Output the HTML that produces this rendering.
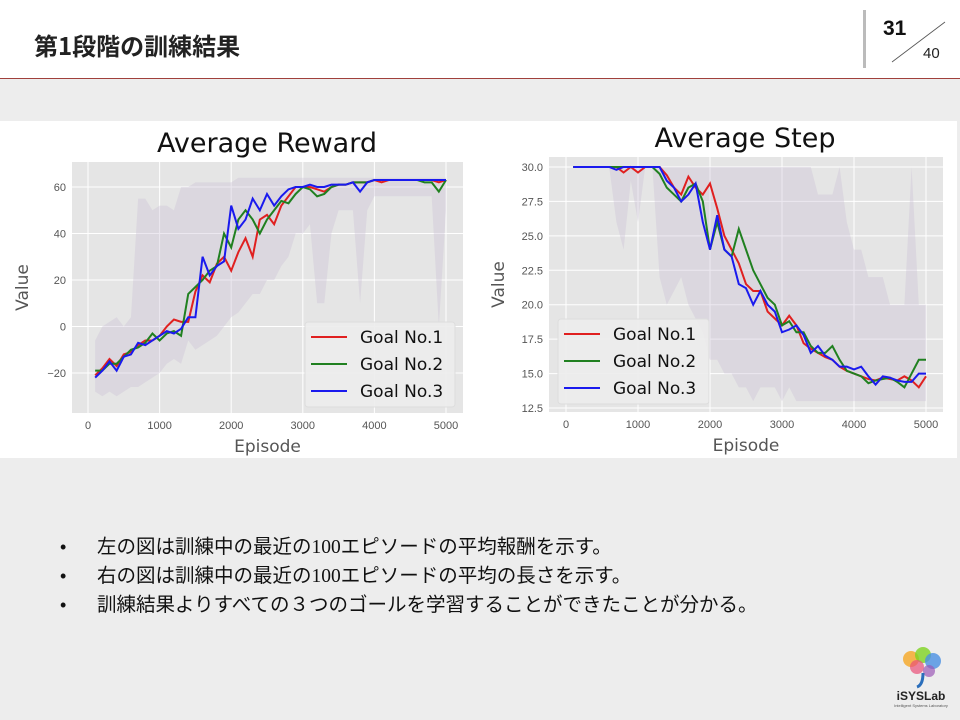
<!DOCTYPE html>
<html><head><meta charset="utf-8">
<style>
body{margin:0;width:960px;height:720px;overflow:hidden;background:#ededed;font-family:"Liberation Sans","Noto Sans CJK JP",sans-serif;position:relative}
#hdr{position:absolute;left:0;top:0;width:960px;height:78px;background:#fff;border-bottom:1px solid #a0403c}
#ttl{position:absolute;left:34px;top:28px;font-size:24px;font-weight:bold;color:#222;font-family:"Noto Sans CJK JP",sans-serif;line-height:34px}
#div{position:absolute;left:863px;top:10px;width:3px;height:58px;background:#bbb}
#pg{position:absolute;left:883px;top:17px;font-size:21px;font-weight:bold;color:#111}
#tot{position:absolute;left:923px;top:45px;font-size:15px;color:#222}
#strip{position:absolute;left:0;top:121px;width:957px;height:337px;background:#fff}
ul{position:absolute;left:60px;top:533px;margin:0;padding:0;list-style:none;font-family:"Liberation Serif","Noto Sans CJK JP",sans-serif;font-size:19.5px;color:#111}
li{height:29px;line-height:29px;position:relative;padding-left:37px;white-space:nowrap}
li:before{content:"•";position:absolute;left:0;font-family:"Liberation Sans";font-size:18px}
#logo{position:absolute;left:893px;top:645px}
</style></head><body>
<div id="hdr"></div>
<div id="ttl">第1段階の訓練結果</div>
<div id="div"></div>
<div id="pg">31</div>
<svg style="position:absolute;left:890px;top:20px" width="60" height="45"><line x1="2" y1="42" x2="55" y2="2" stroke="#555" stroke-width="0.8"/></svg>
<div id="tot">40</div>
<div id="strip"></div>
<svg id="chart" style="position:absolute;left:0;top:0" width="960" height="720"></svg>
<ul>
<li>左の図は訓練中の最近の100エピソードの平均報酬を示す。</li>
<li>右の図は訓練中の最近の100エピソードの平均の長さを示す。</li>
<li>訓練結果よりすべての３つのゴールを学習することができたことが分かる。</li>
</ul>
<svg id="logo" width="60" height="65">
<circle cx="18" cy="14" r="8" fill="#f5a623" opacity="0.8"/><circle cx="30" cy="10" r="8" fill="#7ed321" opacity="0.8"/><circle cx="40" cy="16" r="8" fill="#4a90e2" opacity="0.8"/><circle cx="24" cy="22" r="7" fill="#e94e77" opacity="0.7"/><circle cx="36" cy="26" r="6" fill="#9b59b6" opacity="0.7"/>
<path d="M30 28 Q30 40 24 42" stroke="#2a6ebb" stroke-width="3" fill="none"/>
<text x="28" y="55" text-anchor="middle" font-size="12" font-weight="bold" fill="#222" font-family="Liberation Sans">iSYSLab</text>
<text x="28" y="62" text-anchor="middle" font-size="4" fill="#555" font-family="Liberation Sans">Intelligent Systems Laboratory</text>
</svg>
<script>
const episodes=[100,200,300,400,500,600,700,800,900,1000,1100,1200,1300,1400,1500,1600,1700,1800,1900,2000,2100,2200,2300,2400,2500,2600,2700,2800,2900,3000,3100,3200,3300,3400,3500,3600,3700,3800,3900,4000,4100,4200,4300,4400,4500,4600,4700,4800,4900,5000];
const rewardG1=[-21,-18,-14,-17,-12,-11,-8,-6,-6,-4,0,3,2,2,15,22,19,27,30,24,32,38,30,46,48,44,52,56,60,60,60,59,58,60,61,61,62,62,62,63,62,63,63,63,63,63,63,63,62,63];
const rewardG2=[-19,-19,-16,-16,-13,-10,-9,-7,-3,-6,-3,-2,-4,14,17,20,24,26,40,34,46,50,46,40,46,50,54,53,57,60,59,56,57,60,61,61,62,62,62,63,63,63,63,63,63,63,62,62,58,63];
const rewardG3=[-22,-19,-15,-19,-13,-12,-7,-8,-6,-4,-2,-3,-1,4,4,30,22,26,28,52,42,46,55,50,57,52,56,59,60,60,61,60,60,61,61,61,62,58,62,63,63,63,63,63,63,63,63,63,63,63];
const rewardHi=[-6,0,2,4,0,4,55,55,50,52,52,50,60,60,62,62,62,62,62,62,64,64,64,64,64,64,64,64,64,64,64,64,64,64,64,64,64,64,64,64,64,64,64,64,64,64,64,64,64,64];
const rewardLo=[-28,-30,-28,-30,-28,-26,-26,-24,-22,-20,-16,-14,-16,-6,-10,-8,-6,-4,0,4,6,10,14,14,20,20,26,30,40,40,44,10,10,40,50,50,50,10,50,56,56,56,56,56,56,56,56,56,0,50];
const stepG1=[30,30,30,30,30,30,30,29.6,30,29.6,30,30,30,29.4,28.5,28,29.3,28.5,28,28.8,27,25,24,23,21.5,21,21,19.5,19,18.5,19.2,18.5,17.2,16.8,16.5,16.2,16,15.5,15.2,15,14.8,14.6,14.5,14.7,14.6,14.5,14.8,14.5,14,14.8];
const stepG2=[30,30,30,30,30,30,30,30,30,30,30,30,29.5,28.5,28,27.5,28.5,28.8,27.5,24,26,24,23.5,25.5,24,22.5,21.5,20.5,20,18.5,18.8,18,18,17,16.5,16.5,17,16,15.2,15,14.8,14.3,14.5,14.6,14.7,14.4,14,15,16,16];
const stepG3=[30,30,30,30,30,30,29.8,30,30,30,30,30,30,29,28.5,27.5,28,28.8,26,24,26.5,24,23.5,21.5,21.2,20,21,20,19.5,18,18.2,18.5,17.8,16.5,17,16.3,16,15.5,15.5,15.3,15.5,14.8,14.2,14.8,14.7,14.5,14.4,14.4,15,15];
const stepHi=[30,30,30,30,30,30,30,30,30,30,30,30,30,30,30,30,30,30,30,30,30,30,30,30,30,30,30,30,30,30,30,30,30,30,28,28,28,30,26,24,24,22,22,22,20,20,20,30,20,20];
const stepLo=[30,30,30,30,30,30,26,24,29,26,30,30,22,20,21,22,20,19,18,16,16,15,15,14,14,13,14,14,14,13,14,13,13,13,13,13,13,13,13,13,13,13,13,13,13,13,13,13,13,13];
const xTicks=[0,1000,2000,3000,4000,5000];
const rewardTicks=[60,40,20,0,-20];
const stepTicks=[30.0,27.5,25.0,22.5,20.0,17.5,15.0,12.5];
const legendLabels=["Goal No.1","Goal No.2","Goal No.3"];
const colors=["#e02020","#208020","#1a1aee"];
const NS="http://www.w3.org/2000/svg";
const svg=document.getElementById('chart');
function mk(t,a,p){const e=document.createElementNS(NS,t);for(const k in a)e.setAttribute(k,a[k]);(p||svg).appendChild(e);return e;}
function chart(cfg){
  const g=mk('g',{});
  
  
  const X=v=>cfg.x0+(v-0)*(cfg.x1-cfg.x0)/5000;
  const Y=v=>cfg.y0+(v-cfg.v0)*(cfg.y1-cfg.y0)/(cfg.v1-cfg.v0);
  const bg=mk('rect',{x:cfg.ax,y:cfg.ay,width:cfg.aw,height:cfg.ah,fill:'#e5e5e5'},g);
  
  
  xTicks.forEach(t=>{mk('line',{x1:X(t),x2:X(t),y1:cfg.ay,y2:cfg.ay+cfg.ah,stroke:'#fff','stroke-width':1},g);
    const tx=mk('text',{x:X(t),y:cfg.ay+cfg.ah+16,'text-anchor':'middle','font-size':11,fill:'#555'},g);tx.textContent=t;
    
    });
  cfg.ticks.forEach(t=>{mk('line',{x1:cfg.ax,x2:cfg.ax+cfg.aw,y1:Y(t),y2:Y(t),stroke:'#fff','stroke-width':1},g);
    const tx=mk('text',{x:cfg.ax-6,y:Y(t)+4,'text-anchor':'end','font-size':11,fill:'#555'},g);tx.textContent=cfg.fmt(t);
    
    });
  let pts=episodes.map((e,i)=>X(e)+','+Y(cfg.hi[i])).concat(episodes.map((e,i)=>X(e)+','+Y(cfg.lo[i])).reverse());
  const band=mk('polygon',{points:pts.join(' '),fill:'#c8bcd4','fill-opacity':0.35},g);
  
  
  cfg.series.forEach((s,k)=>{
    const p=mk('polyline',{points:episodes.map((e,i)=>X(e)+','+Y(s[i])).join(' '),fill:'none',stroke:colors[k],'stroke-width':2},g);
    
    
  });
  const t=mk('text',{x:cfg.tx,y:cfg.ty,'text-anchor':'middle','font-size':27,fill:'#111','font-family':'DejaVu Sans'},g);t.textContent=cfg.title;
  
  
  const xl=mk('text',{x:(cfg.ax+cfg.ax+cfg.aw)/2,y:cfg.ay+cfg.ah+39,'text-anchor':'middle','font-size':17,fill:'#555','font-family':'DejaVu Sans'},g);xl.textContent='Episode';
  
  
  const yl=mk('text',{x:0,y:0,'text-anchor':'middle','font-size':17,fill:'#555','font-family':'DejaVu Sans',transform:`translate(${cfg.ylx},${cfg.ay+cfg.ah/2}) rotate(-90)`},g);yl.textContent='Value';
  
  
  const lg=mk('g',{},g);
  
  
  mk('rect',{x:cfg.lx,y:cfg.ly,width:cfg.lw,height:85,fill:'#ececec','fill-opacity':0.9,stroke:'#ddd',rx:3},lg);
  legendLabels.forEach((l,k)=>{
    const yy=cfg.ly+15+k*27;
    mk('line',{x1:cfg.lx+6,x2:cfg.lx+42,y1:yy,y2:yy,stroke:colors[k],'stroke-width':2},lg);
    const tx=mk('text',{x:cfg.lx+55,y:yy+6,'font-size':17,fill:'#111','font-family':'DejaVu Sans'},lg);tx.textContent=l;
    
    
  });
}
chart({name:'average-reward-chart',title:'Average Reward',tx:267,ty:152,ax:72,ay:162,aw:391,ah:251,x0:88,x1:446,v0:60,v1:-20,y0:187,y1:373,ticks:rewardTicks,fmt:t=>t<0?'−'+(-t):String(t),hi:rewardHi,lo:rewardLo,series:[rewardG1,rewardG2,rewardG3],ylx:28,lx:305,ly:322,lw:150});
chart({name:'average-step-chart',title:'Average Step',tx:745,ty:147,ax:549,ay:157,aw:394,ah:255,x0:566,x1:926,v0:30,v1:12.5,y0:167,y1:408,ticks:stepTicks,fmt:t=>t.toFixed(1),hi:stepHi,lo:stepLo,series:[stepG1,stepG2,stepG3],ylx:504,lx:558,ly:319,lw:151});
</script>
</body></html>
